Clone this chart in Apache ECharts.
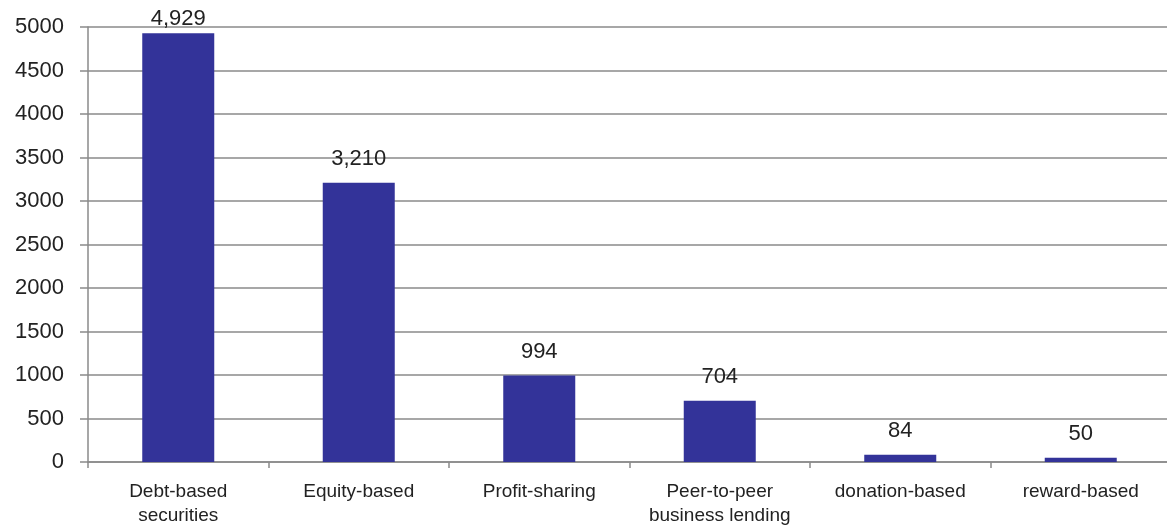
<!DOCTYPE html>
<html><head><meta charset="utf-8">
<script src="https://cdn.jsdelivr.net/npm/echarts@6/dist/echarts.min.js"></script>
<style>html,body{margin:0;padding:0;background:#fff;overflow:hidden}#c{width:1171px;height:528px}</style>
</head><body><div id="c"></div>
<script>
const categories = ["Debt-based\nsecurities", "Equity-based", "Profit-sharing", "Peer-to-peer\nbusiness lending", "donation-based", "reward-based"];
const values = [4929, 3210, 994, 704, 84, 50];
const yTicks = { min: 0, max: 5000, interval: 500 };

const font = "Liberation Sans";
const chart = echarts.init(document.getElementById('c'), null, { renderer: 'canvas' });
chart.setOption({
  animation: false,
  grid: { left: 88, right: 0, top: 27, bottom: 66, containLabel: false },
  xAxis: {
    type: 'category', data: categories,
    axisLine: { lineStyle: { color: '#8a8a8a', width: 1.5 } },
    axisTick: { show: true, length: 6, lineStyle: { color: '#8a8a8a', width: 1.5 } },
    axisLabel: { color: '#222', fontFamily: font, fontSize: 19, lineHeight: 24, margin: 18, interval: 0 }
  },
  yAxis: {
    type: 'value', min: yTicks.min, max: yTicks.max, interval: yTicks.interval,
    axisLine: { show: true, lineStyle: { color: '#8a8a8a', width: 1.5 } },
    axisTick: { show: true, length: 8, lineStyle: { color: '#8a8a8a', width: 1.5 } },
    splitLine: { lineStyle: { color: '#8a8a8a', width: 1.5 } },
    axisLabel: { color: '#222', fontFamily: font, fontSize: 22, margin: 24, formatter: v => String(v) }
  },
  series: [{
    type: 'bar', barWidth: 72,
    data: values.map((v, i) => i === 0 ? { value: v, label: { distance: 3 } } : v),
    itemStyle: { color: '#333399' },
    label: {
      show: true, position: 'top', distance: 13, color: '#222', fontFamily: font, fontSize: 22,
      formatter: p => p.value.toLocaleString('en-US')
    }
  }]
});
</script></body></html>
